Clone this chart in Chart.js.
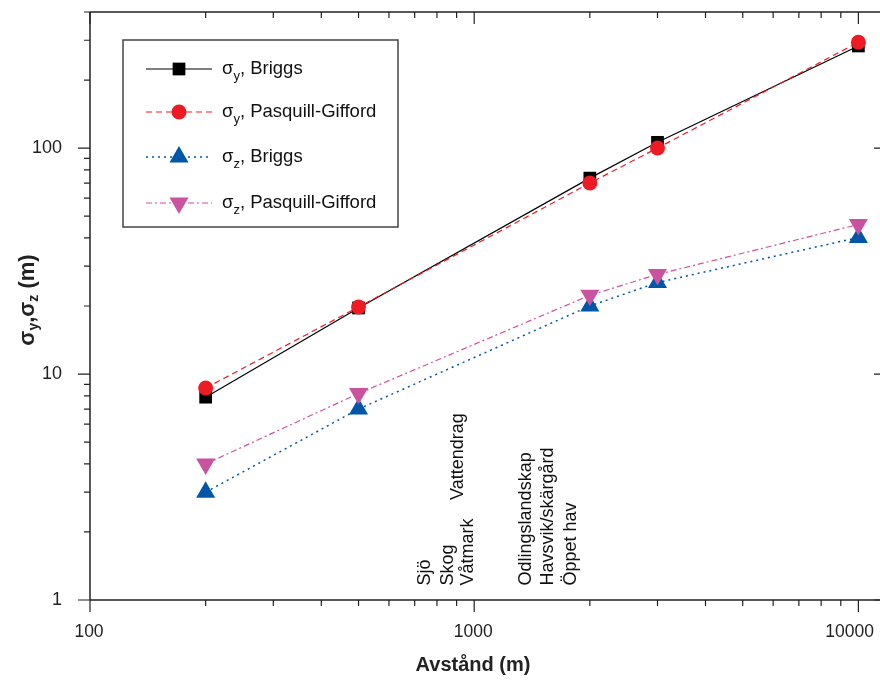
<!DOCTYPE html>
<html>
<head>
<meta charset="utf-8">
<script src="https://cdn.jsdelivr.net/npm/chart.js@4"></script>
<style>
  html, body { margin: 0; padding: 0; background: #fff; overflow: hidden; }
  #wrap { width: 897px; height: 680px; }
</style>
</head>
<body>
<div id="wrap"><canvas id="sigmaChart" width="897" height="680"></canvas></div>
<script>

// ------------------------------
// Data
// ------------------------------

const distances = [200, 500, 2000, 3000, 10000];

const sigmaYBriggs = [7.9, 19.6, 73.6, 106, 283];
const sigmaYPG = [8.67, 19.8, 70, 100, 294];
const sigmaZBriggs = [3.0, 7.0, 20, 25.4, 40.2];
const sigmaZPG = [4.0, 8.2, 22.3, 27.6, 45.9];

const xTickMin = 100;
const xTickMax = 11800;
const yTickMin = 1;
const yTickMax = 400;

// terrain labels along the x axis (x value, lower end in y)
const terrainLabels = ["Sjö", "Skog", "Våtmark", "Vattendrag", "Odlingslandskap", "Havsvik/skärgård", "Öppet hav"];
const terrainX = [747, 853, 961, 906, 1362, 1555, 1786];
const terrainY = [1.16, 1.16, 1.16, 2.77, 1.16, 1.16, 1.16];

// legend rows: symbol, subscript, rest of label
const legendSub = ["y", "y", "z", "z"];
const legendRest = [", Briggs", ", Pasquill-Gifford", ", Briggs", ", Pasquill-Gifford"];

const FONT = "'Liberation Sans', Arial, Helvetica, sans-serif";

function isPow10(v){
    const l = Math.log10(v);
    return Math.abs(l - Math.round(l)) < 1e-9;
}

function isWholeSig(v){
    const s = v / Math.pow(10, Math.floor(Math.log10(v) + 1e-9));
    return Math.abs(s - Math.round(s)) < 1e-6;
}

function noPad(scale){
    scale.paddingTop = 0;
    scale.paddingBottom = 0;
    scale.paddingLeft = 0;
    scale.paddingRight = 0;
}

// ------------------------------
// Frame, ticks, legend, labels
// ------------------------------

const framePlugin = {
    id: "framePlugin",
    afterDraw(chart){
        const ctx = chart.ctx;
        const a = chart.chartArea;
        const xs = chart.scales.x;
        const ys = chart.scales.y;

        ctx.save();
        ctx.strokeStyle = "#222";
        ctx.lineWidth = 1.5;
        ctx.beginPath();
        ctx.moveTo(a.left, a.top); ctx.lineTo(a.left, a.bottom);
        ctx.moveTo(a.left, a.bottom); ctx.lineTo(a.right, a.bottom);
        ctx.moveTo(a.left, a.top); ctx.lineTo(a.right, a.top);
        ctx.moveTo(a.right, a.top); ctx.lineTo(a.right, a.bottom);
        ctx.stroke();

        ctx.lineWidth = 1.2;
        ctx.beginPath();
        xs.ticks.forEach(function(t){
            if(!isWholeSig(t.value)) return;
            const px = xs.getPixelForValue(t.value);
            const len = isPow10(t.value) ? 12 : 6;
            ctx.moveTo(px, a.bottom); ctx.lineTo(px, a.bottom + len);
            ctx.moveTo(px, a.top); ctx.lineTo(px, a.top + len);
        });
        ys.ticks.forEach(function(t){
            if(!isWholeSig(t.value)) return;
            const py = ys.getPixelForValue(t.value);
            const len = isPow10(t.value) ? 12 : 6;
            ctx.moveTo(a.left - len, py); ctx.lineTo(a.left, py);
            ctx.moveTo(a.right - len, py); ctx.lineTo(a.right, py);
        });
        ctx.stroke();

        // x tick labels (kept inside the visible 880px)
        ctx.fillStyle = "#222";
        ctx.font = "17.5px " + FONT;
        ctx.textAlign = "center";
        ctx.textBaseline = "middle";
        xs.ticks.forEach(function(t){
            if(!isPow10(t.value)) return;
            const lbl = String(t.value);
            const w = ctx.measureText(lbl).width;
            let px = xs.getPixelForValue(t.value) - 1;
            if(px + w / 2 > 874) px = 874 - w / 2;
            ctx.fillText(lbl, px, a.bottom + 32);
        });

        // terrain labels
        ctx.fillStyle = "#111";
        ctx.font = "18px " + FONT;
        ctx.textAlign = "left";
        ctx.textBaseline = "middle";
        terrainLabels.forEach(function(lbl, i){
            const px = xs.getPixelForValue(terrainX[i]);
            const py = ys.getPixelForValue(terrainY[i]);
            ctx.save();
            ctx.translate(px, py);
            ctx.rotate(-Math.PI / 2);
            ctx.fillText(lbl, 0, 0);
            ctx.restore();
        });

        // x axis title
        ctx.fillStyle = "#222";
        ctx.font = "bold 20px " + FONT;
        ctx.textAlign = "center";
        ctx.textBaseline = "middle";
        ctx.fillText("Avstånd (m)", 473, 665);

        // y axis title with subscripts
        const parts = [
            ["σ", "bold 22px " + FONT, 0],
            ["y", "bold 14px " + FONT, 6],
            [",σ", "bold 22px " + FONT, 0],
            ["z", "bold 14px " + FONT, 6],
            [" (m)", "bold 22px " + FONT, 0]
        ];
        let total = 0;
        parts.forEach(function(p){ ctx.font = p[1]; total += ctx.measureText(p[0]).width; });
        ctx.save();
        ctx.translate(28, 300);
        ctx.rotate(-Math.PI / 2);
        ctx.textAlign = "left";
        ctx.textBaseline = "middle";
        let cx = -total / 2;
        parts.forEach(function(p){
            ctx.font = p[1];
            ctx.fillText(p[0], cx, p[2]);
            cx += ctx.measureText(p[0]).width;
        });
        ctx.restore();

        // legend
        const bx = 123, by = 40, bw = 275, bh = 187;
        ctx.fillStyle = "#fff";
        ctx.fillRect(bx, by, bw, bh);
        ctx.strokeStyle = "#444";
        ctx.lineWidth = 1.5;
        ctx.strokeRect(bx, by, bw, bh);

        const rows = [69, 112, 157, 203];
        chart.data.datasets.forEach(function(ds, i){
            const ry = rows[i];
            ctx.save();
            ctx.strokeStyle = ds.borderColor;
            ctx.lineWidth = ds.borderWidth;
            ctx.setLineDash(ds.borderDash || []);
            ctx.beginPath();
            ctx.moveTo(146, ry); ctx.lineTo(212, ry);
            ctx.stroke();
            ctx.setLineDash([]);
            ctx.fillStyle = ds.pointBackgroundColor;
            ctx.strokeStyle = ds.pointBackgroundColor;
            Chart.helpers.drawPoint(ctx, {
                pointStyle: ds.pointStyle,
                rotation: ds.pointRotation || 0,
                radius: ds.pointRadius,
                borderWidth: 0
            }, 179, ry);
            ctx.restore();

            ctx.fillStyle = "#111";
            ctx.textAlign = "left";
            ctx.textBaseline = "middle";
            let tx = 222;
            ctx.font = "18.5px " + FONT;
            ctx.fillText("σ", tx, ry);
            tx += ctx.measureText("σ").width;
            ctx.font = "13px " + FONT;
            ctx.fillText(legendSub[i], tx, ry + 7);
            tx += ctx.measureText(legendSub[i]).width;
            ctx.font = "18.5px " + FONT;
            ctx.fillText(legendRest[i], tx, ry);
        });

        ctx.restore();
    }
};

// ------------------------------
// Chart
// ------------------------------

const ctxChart = document.getElementById("sigmaChart");

new Chart(ctxChart, {

    type: "line",

    data: {
        datasets: [
            {
                label: "σy, Briggs",
                data: distances.map(function(x, i){ return {x: x, y: sigmaYBriggs[i]}; }),
                borderColor: "#000000",
                borderWidth: 1.2,
                pointStyle: "rect",
                pointRadius: 9,
                pointBackgroundColor: "#000000",
                pointBorderWidth: 0,
                order: 4
            },
            {
                label: "σy, Pasquill-Gifford",
                data: distances.map(function(x, i){ return {x: x, y: sigmaYPG[i]}; }),
                borderColor: "#ed1c24",
                borderWidth: 1.2,
                borderDash: [6, 4],
                pointStyle: "circle",
                pointRadius: 7.5,
                pointBackgroundColor: "#ed1c24",
                pointBorderWidth: 0,
                order: 3
            },
            {
                label: "σz, Briggs",
                data: distances.map(function(x, i){ return {x: x, y: sigmaZBriggs[i]}; }),
                borderColor: "#0057a8",
                borderWidth: 1.5,
                borderDash: [2, 4],
                pointStyle: "triangle",
                pointRadius: 11,
                pointBackgroundColor: "#0057a8",
                pointBorderWidth: 0,
                order: 2
            },
            {
                label: "σz, Pasquill-Gifford",
                data: distances.map(function(x, i){ return {x: x, y: sigmaZPG[i]}; }),
                borderColor: "#c9539f",
                borderWidth: 1.2,
                borderDash: [6, 3, 2, 3],
                pointStyle: "triangle",
                pointRotation: 180,
                pointRadius: 11,
                pointBackgroundColor: "#c9539f",
                pointBorderWidth: 0,
                order: 1
            }
        ]
    },

    options: {
        responsive: false,
        animation: false,
        layout: {
            padding: { top: 12, right: 5, left: 0, bottom: 0 }
        },
        plugins: {
            legend: { display: false },
            tooltip: { enabled: false }
        },
        elements: {
            line: { tension: 0 }
        },
        scales: {
            x: {
                type: "logarithmic",
                min: xTickMin,
                max: xTickMax,
                afterFit: function(scale){ scale.height = 80; noPad(scale); },
                grid: { display: false, drawTicks: false },
                border: { display: false },
                ticks: {
                    display: false,
                    autoSkip: false
                }
            },
            y: {
                type: "logarithmic",
                min: yTickMin,
                max: yTickMax,
                afterFit: function(scale){ scale.width = 90; noPad(scale); },
                grid: { display: false, drawTicks: false },
                border: { display: false },
                ticks: {
                    autoSkip: false,
                    padding: 28,
                    color: "#222",
                    font: { family: FONT, size: 18 },
                    callback: function(v){ return isPow10(v) ? String(v) : ""; }
                }
            }
        }
    },

    plugins: [framePlugin]

});

</script>
</body>
</html>
